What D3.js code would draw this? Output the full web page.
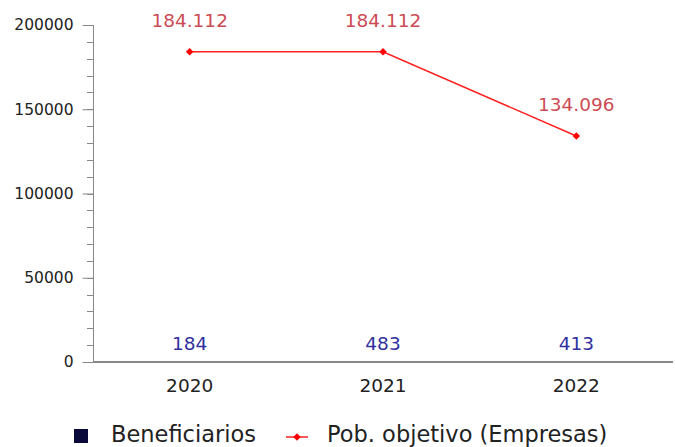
<!DOCTYPE html>
<html><head><meta charset="utf-8">
<script src="https://cdn.jsdelivr.net/npm/d3@7"></script>
<style>body{margin:0;background:#fff}svg{display:block;font-family:"DejaVu Sans",sans-serif}</style>
</head><body><svg id="c" width="675" height="447"></svg>
<script>
const years = ["2020","2021","2022"];
const beneficiarios = [184, 483, 413];
const pobObjetivo = [184112, 184112, 134096];
const yTicks = [0, 50000, 100000, 150000, 200000];
const seriesNames = ["Beneficiarios", "Pob. objetivo (Empresas)"];

const svg = d3.select("#c");
const x = d3.scaleBand().domain(years).range([93, 673]);
const y = d3.scaleLinear().domain([0, 200000]).range([362, 25]);
const fmt = v => d3.format(",")(v).replace(/,/g, ".");

// bars (tiny, drawn beneath the axis)
svg.append("g").attr("shape-rendering", "crispEdges").selectAll("rect").data(beneficiarios).join("rect")
  .attr("x", (d, i) => x(years[i]) + x.bandwidth() * 0.3)
  .attr("width", x.bandwidth() * 0.4)
  .attr("y", d => y(d)).attr("height", d => y(0) - y(d))
  .attr("fill", "#0a0a3a");

// minor ticks
const minor = d3.range(0, 200001, 10000);
svg.append("g").selectAll("line").data(minor).join("line")
  .attr("x1", 87).attr("x2", 93).attr("y1", d => Math.round(y(d)) + 0.5).attr("y2", d => Math.round(y(d)) + 0.5)
  .attr("stroke", "#888").attr("stroke-width", 1);

const ya = svg.append("g").attr("transform", "translate(93.5,0)")
  .call(d3.axisLeft(y).tickValues(yTicks).tickSize(11).tickPadding(9).tickFormat(d => d));
ya.select(".domain").attr("stroke", "#888").attr("d", "M0,362V25");
ya.selectAll(".tick line").attr("stroke", "#888");
ya.selectAll("text").attr("font-size", 15.5).attr("fill", "#222").attr("font-family", "DejaVu Sans");

const xa = svg.append("g").attr("transform", "translate(0,362)")
  .call(d3.axisBottom(x).tickSize(0).tickPadding(17));
xa.select(".domain").attr("stroke", "#888").attr("stroke-width", 2).attr("shape-rendering", "crispEdges").attr("d", "M93,0H673");
xa.selectAll("text").attr("font-size", 18.5).attr("fill", "#222").attr("font-family", "DejaVu Sans");

svg.append("g").selectAll("text").data(beneficiarios).join("text")
  .attr("x", (d, i) => x(years[i]) + x.bandwidth() / 2)
  .attr("y", d => y(0) - 12)
  .attr("text-anchor", "middle").attr("font-size", 18.5).attr("fill", "#3030a0")
  .text(d => d);

// line
const cx = i => x(years[i]) + x.bandwidth() / 2;
svg.append("path").datum(pobObjetivo)
  .attr("d", d3.line().x((d, i) => cx(i)).y(d => y(d)))
  .attr("fill", "none").attr("stroke", "#ff2020").attr("stroke-width", 1.5);
svg.append("g").selectAll("path").data(pobObjetivo).join("path")
  .attr("d", d3.symbol(d3.symbolDiamond2, 36))
  .attr("transform", (d, i) => `translate(${cx(i)},${y(d)})`)
  .attr("fill", "#ff0000");
svg.append("g").selectAll("text").data(pobObjetivo).join("text")
  .attr("x", (d, i) => cx(i)).attr("y", d => y(d) - 25)
  .attr("text-anchor", "middle").attr("font-size", 18.5).attr("fill", "#cc4c55")
  .text(d => fmt(d));

// legend
const lg = svg.append("g");
lg.append("rect").attr("x", 74).attr("y", 429).attr("width", 14).attr("height", 14).attr("fill", "#0a0a3a");
lg.append("text").attr("x", 111).attr("y", 442).attr("font-size", 22.5).attr("fill", "#222").text(seriesNames[0]);
lg.append("line").attr("x1", 286).attr("x2", 308).attr("y1", 437).attr("y2", 437).attr("stroke", "#ff2020").attr("stroke-width", 1.5);
lg.append("path").attr("d", d3.symbol(d3.symbolDiamond2, 36)).attr("transform", "translate(297,437)").attr("fill", "#ff0000");
lg.append("text").attr("x", 327).attr("y", 442).attr("font-size", 22.5).attr("fill", "#222").text(seriesNames[1]);
</script></body></html>
